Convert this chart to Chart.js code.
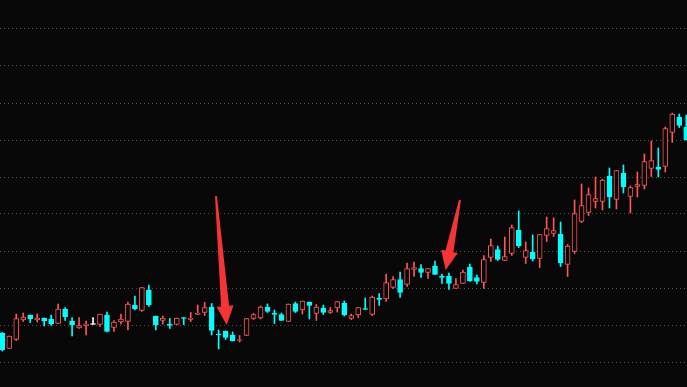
<!DOCTYPE html>
<html><head><meta charset="utf-8">
<script src="https://cdn.jsdelivr.net/npm/chart.js@4"></script>
<style>html,body{margin:0;padding:0;background:#080808;overflow:hidden}canvas{display:block}</style>
</head><body>
<canvas id="c" width="687" height="387"></canvas>
<script>
const opens  = [67,51.5,60.5,80,85,80,82,81,76.5,91,79,72,74.5,75.5,75.5,85,72.5,78,78.5,95,89.5,110,84,79.5,76,75.5,82.5,80.5,85.5,87.5,93,65.5,69,65,59.5,64.5,81.5,82,93,87,85.5,78.5,96.5,90,98,86.5,92,87.5,92,97,81.5,85,91,85.5,102,101,112.5,120.5,115.5,130.5,131.5,127.5,134,124,124,111.5,116.5,133,122.5,117.5,142.5,150.5,139.5,146.5,170,142.5,148,141.5,164.5,166.5,166,135.5,148.5,178.5,187.5,198.5,198.5,224,200.5,227,203.5,213.5,214.5,231.5,233,233.5,267.5,283,273];
const highs  = [67.5,64,86,87,85,86,82,85,96,92.5,82.5,82.5,79,82.5,86,88,79.5,86,98,104,112.5,115,84,84,81.5,82,82.5,87.5,95,97.5,96.5,70,69,68,64.5,81.5,86.5,94,96,90,87,96,98,99,98,95.5,95,92.5,98.5,99,86,92.5,102,104,106.5,126,123.5,128,137,138,135.5,131.5,139,126,127,121.5,130,136,125,144.5,161,154,163,175,189,158,165,165.5,183,182,178,155.5,200,216,212,223,221,232,229.5,235,214,228,246,259,252,273,287,286,285];
const lows   = [49,51.5,59.5,78.5,77.5,78,74,74.5,76.5,79.5,64,71.5,65,75.5,73.5,68,68.5,76,70,90,88.5,93.5,70,76,71.5,75.5,75.5,78.5,85.5,84.5,65,51,60.5,59,58,64.5,80.5,81,87.5,76.5,79.5,78.5,87.5,86,81,79.5,85.5,86.5,88,84,80.5,82.5,90.5,84.5,94.5,98.5,111.5,102.5,113.5,123.5,122.5,121.5,125.5,116.5,110.5,111.5,116.5,118.5,116,111.5,138.5,139.5,139.5,144.5,152.5,136.5,139,132.5,158.5,163.5,133.5,123.5,146.5,177.5,184.5,192,190,192,191,207,187,203,211,223.5,223,228,257.5,272.5,260];
const closes = [50,64,81.5,83,81,82,79,76,91,83,75,74.5,76,75.5,86,68.5,78,81,96,91,112.5,95,75,82,74.5,82,81.5,82,87,92.5,69.5,65,62.5,59,60.5,81.5,85.5,93,88.5,85.5,79.5,96,88.5,99,94.5,93,87.5,89.5,98.5,85,84.5,92.5,90.5,103,100.5,117.5,120.5,107.5,131.5,132.5,127.5,131.5,125.5,122.5,116.5,115.5,128,119,118.5,140.5,154.5,140.5,143.5,172.5,154,149.5,141,165.5,171.5,169.5,137,154,186.5,194.5,205.5,201.5,220,203,229.5,213,212.5,215.5,238.5,239.5,230.5,271.5,286,274.5,260];
const gridLevels = [38,75,112,149,186,223,260,297,334,371];
const arrowTails = [[30.62,204],[65.58,200]];
const arrowTips  = [[32.15,75],[63.53,130]];

const BG = '#080808', UP = '#ff5555', DOWN = '#00ffff', FLAT = '#ffffff';
const idx = opens.map((_, i) => i);
const stroke = idx.map(i => closes[i] > opens[i] ? UP : (closes[i] < opens[i] ? DOWN : FLAT));
const fill = idx.map(i => closes[i] > opens[i] ? BG : stroke[i]);

const bgPlugin = {
  id: 'bg',
  beforeDraw(chart) {
    const ctx = chart.ctx;
    ctx.save(); ctx.fillStyle = BG; ctx.fillRect(0, 0, chart.width, chart.height); ctx.restore();
  }
};
const arrowPlugin = {
  id: 'arrows',
  afterDatasetsDraw(chart) {
    const ctx = chart.ctx, xs = chart.scales.x, ys = chart.scales.y;
    ctx.save();
    ctx.fillStyle = '#f53535';
    arrowTails.forEach((t, k) => {
      const tx = xs.getPixelForValue(t[0]), ty = ys.getPixelForValue(t[1]);
      const px = xs.getPixelForValue(arrowTips[k][0]), py = ys.getPixelForValue(arrowTips[k][1]);
      const L = Math.hypot(px - tx, py - ty);
      const dx = (px - tx) / L, dy = (py - ty) / L;
      const nx = -dy, ny = dx;
      const hl = 19, hw = 8.5, sw0 = 1.0, sw1 = 4.0;
      const bx = px - dx * hl, by = py - dy * hl;
      ctx.beginPath();
      ctx.moveTo(tx + nx * sw0, ty + ny * sw0);
      ctx.lineTo(bx + nx * sw1, by + ny * sw1);
      ctx.lineTo(bx + nx * hw, by + ny * hw);
      ctx.lineTo(px, py);
      ctx.lineTo(bx - nx * hw, by - ny * hw);
      ctx.lineTo(bx - nx * sw1, by - ny * sw1);
      ctx.lineTo(tx - nx * sw0, ty - ny * sw0);
      ctx.closePath();
      ctx.fill();
    });
    ctx.restore();
  }
};

new Chart(document.getElementById('c'), {
  type: 'bar',
  data: {
    datasets: [
      {
        label: 'body',
        data: idx.map(i => ({ x: i, y: [opens[i], closes[i]] })),
        backgroundColor: fill,
        borderColor: stroke,
        borderWidth: 1,
        borderSkipped: false,
        barThickness: 5,
        minBarLength: 1,
        grouped: false,
        order: 0
      },
      {
        label: 'wick',
        data: idx.map(i => ({ x: i, y: [lows[i], highs[i]] })),
        backgroundColor: stroke,
        borderWidth: 0,
        barThickness: 1,
        minBarLength: 1,
        grouped: false,
        order: 1
      }
    ]
  },
  options: {
    responsive: false,
    animation: false,
    layout: { padding: 0 },
    plugins: { legend: { display: false }, tooltip: { enabled: false } },
    scales: {
      x: { type: 'linear', min: -0.33, max: 98.11, display: false, offset: false },
      y: {
        type: 'linear', min: 13, max: 400,
        ticks: { display: false },
        grid: { color: '#505050', lineWidth: 1, drawTicks: false },
        border: { display: false, dash: [1, 3] },
        afterBuildTicks: s => { s.ticks = gridLevels.map(v => ({ value: v })); }
      }
    }
  },
  plugins: [bgPlugin, arrowPlugin]
});
</script>
</body></html>
